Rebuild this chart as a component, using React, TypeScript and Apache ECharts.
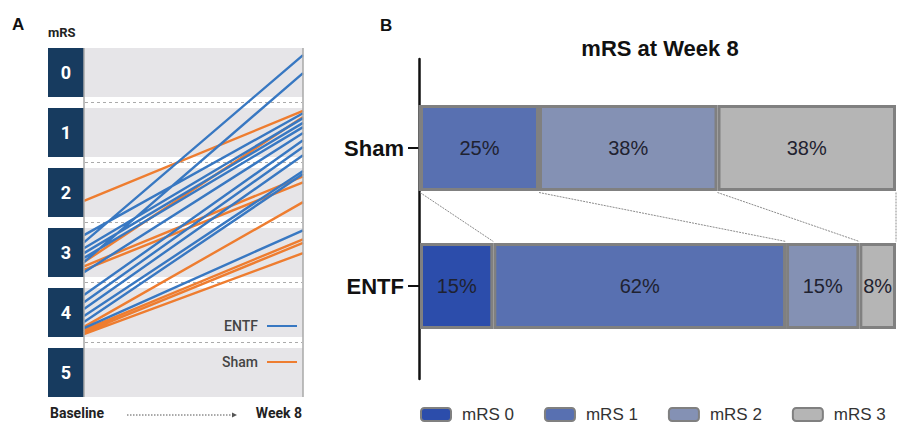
import React, { useEffect, useRef } from 'react';
import * as echarts from 'echarts';

// ---------- Panel A data: individual trajectories (jittered mRS positions) ----------
const mrsLevels = [0, 1, 2, 3, 4, 5];
const entfBaseline = [2.83, 3.16, 2.71, 2.93, 3.01, 3.09, 3.33, 3.71, 3.83, 3.94, 4.06, 4.16, 4.26];
const entfWeek8 = [-0.29, 0.01, 0.68, 0.76, 0.84, 0.91, 1.01, 1.13, 1.24, 1.38, 1.64, 1.69, 2.63];
const shamBaseline = [2.14, 3.16, 3.23, 3.29, 4.24, 4.29, 4.33, 4.36];
const shamWeek8 = [0.64, 0.74, 1.73, 1.83, 2.16, 2.78, 2.84, 3.01];

// ---------- Panel B data: mRS distribution at week 8 (%) ----------
const groupsB = ['Sham', 'ENTF'];
const mrsNames = ['mRS 0', 'mRS 1', 'mRS 2', 'mRS 3'];
const shamPct = [0, 25, 37.5, 37.5];
const entfPct = [15.4, 61.5, 15.4, 7.7];

const barColors = ['#2c4dab', '#5870b1', '#8491b4', '#b5b5b5'];
const BLUE = '#3878c2';
const ORANGE = '#ee7d30';

function segments(b: number[], e: number[]) {
  const d: any[] = [];
  b.forEach((v, i) => {
    d.push([0, v], [1, e[i]], ['-', '-']);
  });
  return d;
}

function cumulative(a: number[]) {
  const out: number[] = [];
  let s = 0;
  a.forEach((v) => {
    s += v;
    out.push(s);
  });
  return out;
}

export default function App() {
  const ref = useRef<HTMLDivElement>(null);

  useEffect(() => {
    document.body.style.margin = '0';
    document.body.style.overflow = 'hidden';
    const chart = echarts.init(ref.current as HTMLDivElement, undefined, { renderer: 'svg' });

    const shamCum = cumulative(shamPct);
    const entfCum = cumulative(entfPct);
    const connectors = shamCum.map((v, i) => [v, entfCum[i]]);
    const BAR_W = 86;

    const hiddenValueAxis = (idx: number, min: number, max: number, inverse = false) => ({
      type: 'value',
      gridIndex: idx,
      min,
      max,
      inverse,
      show: false,
    });

    const option: any = {
      animation: false,
      grid: [
        { left: 84, width: 219, top: 42.5, height: 360 }, // A lines
        { left: 48, width: 36, top: 42.5, height: 360 }, // A boxes
        { left: 420, right: 5, top: 79, height: 276 }, // B bars
        { left: 419, width: 1, top: 59, height: 320 }, // B axis line
      ],
      xAxis: [
        hiddenValueAxis(0, 0, 1),
        hiddenValueAxis(1, 0, 1),
        hiddenValueAxis(2, 0, 100),
        hiddenValueAxis(3, 0, 1),
      ],
      yAxis: [
        hiddenValueAxis(0, -0.5, 5.5, true),
        hiddenValueAxis(1, -0.5, 5.5, true),
        {
          type: 'category',
          gridIndex: 2,
          data: groupsB,
          inverse: true,
          axisLine: { show: false },
          axisTick: { show: true, alignWithLabel: true, length: 12, lineStyle: { color: '#111', width: 2 } },
          axisLabel: {
            margin: 16,
            fontSize: 22,
            fontWeight: 'bold',
            color: '#111',
            fontFamily: 'Liberation Sans',
          },
          splitLine: { show: false },
        },
        {
          type: 'value',
          gridIndex: 3,
          axisLine: { show: true, lineStyle: { color: '#111', width: 2.5 } },
          axisTick: { show: false },
          axisLabel: { show: false },
          splitLine: { show: false },
        },
      ],
      legend: [
        {
          data: ['ENTF', 'Sham'],
          orient: 'vertical',
          left: 217,
          top: 314,
          align: 'right',
          icon: 'rect',
          itemWidth: 30,
          itemHeight: 2,
          itemGap: 22,
          selectedMode: false,
          textStyle: { fontSize: 14, fontFamily: 'Roboto', fontWeight: 500, color: '#444', padding: [0, 4, 0, 0] },
        },
        {
          data: mrsNames,
          left: 415,
          top: 401,
          width: 486,
          itemWidth: 30,
          itemHeight: 13,
          itemGap: 30,
          selectedMode: false,
          itemStyle: { borderColor: '#808080', borderWidth: 2 },
          textStyle: { fontSize: 17, fontFamily: 'Liberation Sans', color: '#333', padding: [0, 0, 0, 6] },
        },
      ],
      graphic: [
        { type: 'text', style: { text: 'A', x: 12, y: 24, textVerticalAlign: 'middle', font: 'bold 17px "Liberation Sans"', fill: '#111' } },
        { type: 'text', style: { text: 'mRS', x: 48, y: 32, textVerticalAlign: 'middle', font: 'bold 13px Roboto', fill: '#222' } },
        { type: 'text', style: { text: 'B', x: 380, y: 25, textVerticalAlign: 'middle', font: 'bold 17px "Liberation Sans"', fill: '#111' } },
        { type: 'text', style: { text: 'mRS at Week 8', x: 660, y: 48, textAlign: 'center', textVerticalAlign: 'middle', font: 'bold 22px "Liberation Sans"', fill: '#111' } },
        { type: 'text', style: { text: 'Baseline', x: 50, y: 413, textVerticalAlign: 'middle', font: 'bold 14px Roboto', fill: '#222' } },
        { type: 'text', style: { text: 'Week 8', x: 302, y: 413, textAlign: 'right', textVerticalAlign: 'middle', font: 'bold 14px Roboto', fill: '#222' } },
        { type: 'line', shape: { x1: 127, y1: 415, x2: 233, y2: 415 }, style: { stroke: '#555', lineWidth: 1, lineDash: [1.5, 1.5] } },
        { type: 'polygon', shape: { points: [[232, 412.5], [237, 415], [232, 417.5]] }, style: { fill: '#555' } },
      ],
      series: [
        // Panel A gray bands and dashed separators
        {
          type: 'custom',
          xAxisIndex: 0,
          yAxisIndex: 0,
          silent: true,
          data: mrsLevels.map((k) => [k]),
          encode: { y: 0 },
          renderItem: (params: any, api: any) => {
            const k = api.value(0);
            const p0 = api.coord([0, k - 0.41]);
            const p1 = api.coord([1, k + 0.41]);
            const children: any[] = [
              {
                type: 'rect',
                shape: { x: p0[0], y: p0[1], width: p1[0] - p0[0], height: p1[1] - p0[1] },
                style: { fill: '#e6e5e8' },
              },
            ];
            if (k < 5) {
              const m = api.coord([0, k + 0.5]);
              children.push({
                type: 'line',
                shape: { x1: p0[0] + 1, y1: m[1], x2: p1[0] - 1, y2: m[1] },
                style: { stroke: '#aaaaaa', lineWidth: 1, lineDash: [3, 3] },
              });
            }
            return { type: 'group', children };
          },
          markLine: {
            silent: true,
            symbol: 'none',
            label: { show: false },
            lineStyle: { color: '#a9a9a9', width: 1.5, type: 'solid' },
            data: [
              [{ coord: [1, -0.41] }, { coord: [1, 5.41] }],
              [{ coord: [0, -0.41] }, { coord: [0, 5.41] }],
            ],
          },
          z: 1,
        },
        // Panel A mRS boxes
        {
          type: 'custom',
          xAxisIndex: 1,
          yAxisIndex: 1,
          silent: true,
          data: mrsLevels.map((k) => [k]),
          encode: { y: 0 },
          renderItem: (params: any, api: any) => {
            const k = api.value(0);
            const p0 = api.coord([0, k - 0.41]);
            const p1 = api.coord([1, k + 0.41]);
            const c = api.coord([0.5, k]);
            return {
              type: 'group',
              children: [
                {
                  type: 'rect',
                  shape: { x: p0[0], y: p0[1], width: p1[0] - p0[0], height: p1[1] - p0[1] },
                  style: { fill: '#173b5f' },
                },
                {
                  type: 'text',
                  style: {
                    text: String(k),
                    x: c[0],
                    y: c[1],
                    textAlign: 'center',
                    textVerticalAlign: 'middle',
                    font: 'bold 18px Roboto',
                    fill: '#ffffff',
                  },
                },
              ],
            };
          },
        },
        {
          name: 'Sham',
          type: 'line',
          xAxisIndex: 0,
          yAxisIndex: 0,
          data: segments(shamBaseline, shamWeek8),
          showSymbol: false,
          symbol: 'none',
          connectNulls: false,
          color: ORANGE,
          lineStyle: { color: ORANGE, width: 2.4 },
          z: 3,
        },
        {
          name: 'ENTF',
          type: 'line',
          xAxisIndex: 0,
          yAxisIndex: 0,
          data: segments(entfBaseline, entfWeek8),
          showSymbol: false,
          symbol: 'none',
          connectNulls: false,
          color: BLUE,
          lineStyle: { color: BLUE, width: 2.4 },
          z: 4,
        },
        // Panel B stacked bars
        ...mrsNames.map((name, i) => ({
          name,
          type: 'bar',
          xAxisIndex: 2,
          yAxisIndex: 2,
          stack: 'total',
          barWidth: BAR_W,
          data: [shamPct[i], entfPct[i]],
          itemStyle: { color: barColors[i], borderColor: '#808080', borderWidth: 3 },
          label: {
            show: true,
            position: 'inside',
            fontSize: 20,
            fontFamily: 'Liberation Sans',
            color: '#1f2230',
            formatter: (p: any) => (p.value > 0 ? Math.round(p.value) + '%' : ''),
          },
          z: 3,
        })),
        // Panel B connector lines between matching boundaries
        {
          type: 'custom',
          xAxisIndex: 2,
          yAxisIndex: 2,
          silent: true,
          data: connectors,
          encode: { x: [0, 1] },
          renderItem: (params: any, api: any) => {
            const a = api.coord([api.value(0), 0]);
            const b = api.coord([api.value(1), 1]);
            const half = BAR_W / 2 + 1.5;
            return {
              type: 'line',
              shape: { x1: a[0], y1: a[1] + half, x2: b[0], y2: b[1] - half },
              style: { stroke: '#8c8c8c', lineWidth: 1, lineDash: [2, 1] },
            };
          },
          z: 2,
        },
      ],
    };

    chart.setOption(option);
    return () => chart.dispose();
  }, []);

  return <div ref={ref} style={{ width: 901, height: 423 }} />;
}
